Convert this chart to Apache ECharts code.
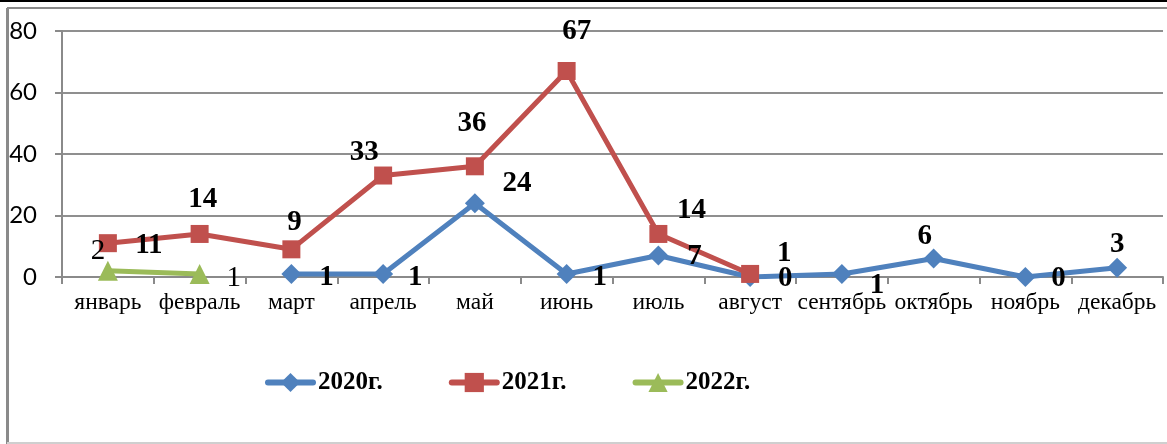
<!DOCTYPE html>
<html>
<head>
    <meta charset="utf-8">
    <title>ECharts</title>
    <script src="https://cdn.jsdelivr.net/npm/echarts@6/dist/echarts.min.js"></script>
    <style>
        *{margin: 0;padding: 0;}
        body{background: #fff;}
    </style>
</head>
<body>
    <div id="main" style="width: 1167px;height:444px;"></div>
    <script type="text/javascript">
        // data
        var months = ['январь', 'февраль', 'март', 'апрель', 'май', 'июнь', 'июль', 'август', 'сентябрь', 'октябрь', 'ноябрь', 'декабрь'];
        var seriesNames = ['2020г.', '2021г.', '2022г.'];
        var y2020 = [null, null, 1, 1, 24, 1, 7, 0, 1, 6, 0, 3];
        var y2021 = [11, 14, 9, 33, 36, 67, 14, 1, null, null, null, null];
        var y2022 = [2, 1, null, null, null, null, null, null, null, null, null, null];
        var yTicks = [0, 20, 40, 60, 80];

        // where each value label sits relative to its point (like manual placement in Excel)
        var off2020 = [null, null, [35, 4], [32, 4], [42, -20], [33, 4], [36, 1], [35, 2], [35, 12], [-9, -22], [33, 2], [0, -23]];
        var off2021 = [[41, 2], [3, -34], [3, -27], [-19, -23], [-3, -43], [10, -39], [33, -23], [34, -20], null, null, null, null];
        var off2022 = [[-10, -19], [34, 4], null, null, null, null, null, null, null, null, null, null];

        var serif = '"Liberation Serif", "Times New Roman", serif';

        function pts(vals, offs, bold) {
            return vals.map(function (v, i) {
                if (v === null) return null;
                return {
                    value: v,
                    label: {
                        show: true,
                        position: 'inside',
                        offset: offs[i] || [0, 0],
                        fontWeight: bold ? 'bold' : 'normal'
                    }
                };
            });
        }

        var myChart = echarts.init(document.getElementById('main'));

        var option = {
            animation: false,
            color: ['#4f81bd', '#c0504d', '#9bbb59'],
            graphic: [
                { type: 'line', shape: { x1: 0, y1: 1, x2: 1167, y2: 1 }, style: { stroke: '#000', lineWidth: 2 } },
                { type: 'line', shape: { x1: 7, y1: 8, x2: 1167, y2: 8 }, style: { stroke: '#8a8a8a', lineWidth: 2 } },
                { type: 'line', shape: { x1: 7.5, y1: 8, x2: 7.5, y2: 444 }, style: { stroke: '#8a8a8a', lineWidth: 3 } },
                { type: 'line', shape: { x1: 7, y1: 443, x2: 1167, y2: 443 }, style: { stroke: '#cfcfcf', lineWidth: 2 } }
            ],
            grid: { left: 62, right: 4, top: 31, bottom: 167 },
            legend: {
                left: 265,
                top: 370,
                padding: 0,
                itemWidth: 45,
                itemHeight: 24,
                itemGap: 66,
                lineStyle: { width: 6, cap: 'round' },
                textStyle: { fontFamily: serif, fontWeight: 'bold', fontSize: 25, color: '#000' },
                data: seriesNames
            },
            xAxis: {
                type: 'category',
                data: months,
                boundaryGap: true,
                axisLine: { lineStyle: { color: '#8a8a8a', width: 2 } },
                axisTick: { show: true, length: 7, lineStyle: { color: '#8a8a8a', width: 2 } },
                axisLabel: { interval: 0, margin: 14, fontFamily: serif, fontSize: 23.5, color: '#000' }
            },
            yAxis: {
                type: 'value',
                min: yTicks[0],
                max: yTicks[yTicks.length - 1],
                interval: 20,
                axisLine: { show: true, lineStyle: { color: '#8a8a8a', width: 2 } },
                axisTick: { show: true, length: 7, lineStyle: { color: '#8a8a8a', width: 2 } },
                axisLabel: { margin: 25, fontFamily: 'Lato, "Open Sans", sans-serif', fontSize: 24, color: '#000' },
                splitLine: { lineStyle: { color: '#8f8f8f', width: 2 } }
            },
            series: [
                {
                    name: seriesNames[0], type: 'line', data: pts(y2020, off2020, true),
                    symbol: 'diamond', symbolSize: 20, lineStyle: { width: 5 },
                    label: { fontFamily: serif, fontSize: 29, color: '#000' }
                },
                {
                    name: seriesNames[1], type: 'line', data: pts(y2021, off2021, true),
                    symbol: 'rect', symbolSize: 18, lineStyle: { width: 5 },
                    label: { fontFamily: serif, fontSize: 29, color: '#000' }
                },
                {
                    name: seriesNames[2], type: 'line', data: pts(y2022, off2022, false),
                    symbol: 'triangle', symbolSize: 20, lineStyle: { width: 5 },
                    label: { fontFamily: serif, fontSize: 29, color: '#000' }
                }
            ]
        };

        myChart.setOption(option);
    </script>
</body>
</html>
